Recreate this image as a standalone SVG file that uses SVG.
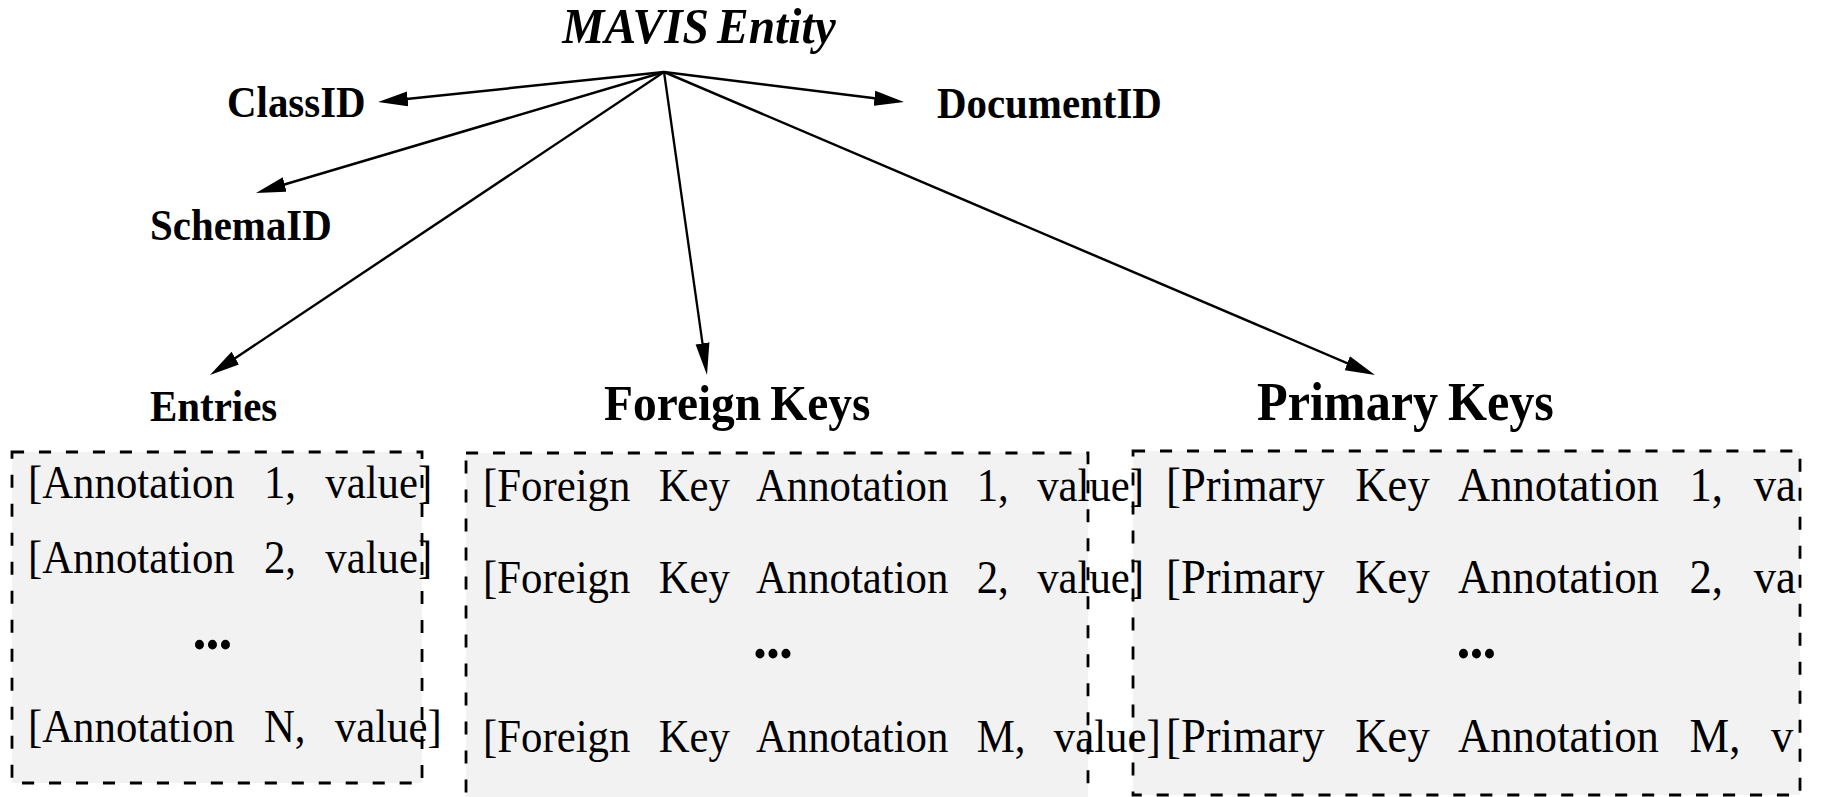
<svg xmlns="http://www.w3.org/2000/svg" width="1822" height="797" viewBox="0 0 1822 797">
<style>
.lbl{font-family:"Liberation Serif","Times New Roman",serif;font-weight:bold;fill:#000}
.small{font-size:44px}
.head{font-size:51px;word-spacing:-3px}
.title{font-size:51px;font-style:italic;word-spacing:-4px}
.row{font-family:"Liberation Serif","Times New Roman",serif;fill:#000;font-size:46px}
.row3{font-size:48px;word-spacing:21px}
.dots{font-family:"Liberation Serif","Times New Roman",serif;font-weight:bold;font-size:60px;letter-spacing:-1px;text-anchor:middle;fill:#000}
.box{fill:#f2f2f2;stroke:#000;stroke-width:3;stroke-dasharray:13 16}
.conn{stroke:#000;stroke-width:2.5;fill:none;marker-end:url(#arr)}
</style>
<defs>
<marker id="arr" markerUnits="userSpaceOnUse" viewBox="0 0 32 16" markerWidth="32" markerHeight="16" refX="22" refY="8" orient="auto">
<path d="M0,0.5 L32,8 L0,15.5 Z" fill="#000"/>
</marker>
</defs>
<rect x="0" y="0" width="1822" height="797" fill="#fff"/>
<g transform="scale(0.93 1)">
<g id="connectors">
<line class="conn" x1="714" y1="72" x2="416.5" y2="101"/>
<line class="conn" x1="714" y1="72" x2="962.1" y2="100.8"/>
<line class="conn" x1="714" y1="72" x2="284.9" y2="190.3"/>
<line class="conn" x1="714" y1="72" x2="234.3" y2="369.7"/>
<line class="conn" x1="714" y1="72" x2="758.7" y2="365.1"/>
<line class="conn" x1="714" y1="72" x2="1469.2" y2="371.3"/>
</g>
<g id="mavis-entity">
<text class="lbl title" x="751.6" y="43" text-anchor="middle">MAVIS Entity</text>
</g>
<g id="classid">
<text class="lbl small" x="244.1" y="117">ClassID</text>
</g>
<g id="documentid">
<text class="lbl small" x="1007.5" y="118">DocumentID</text>
</g>
<g id="schemaid">
<text class="lbl small" x="161.3" y="240">SchemaID</text>
</g>
<g id="primary-keys">
<text class="lbl head" x="1351.6" y="420" style="font-size:54px">Primary Keys</text>
<rect class="box" x="1218.3" y="451" width="717.2" height="344"/>
<text class="row row3" x="1253.8" y="501">[Primary Key Annotation 1, va</text>
<text class="row row3" x="1253.8" y="593">[Primary Key Annotation 2, va</text>
<text class="dots" x="1587.1" y="658">...</text>
<text class="row row3" x="1253.8" y="752">[Primary Key Annotation M, v</text>
</g>
<g id="foreign-keys">
<text class="lbl head" x="649.5" y="420">Foreign Keys</text>
<rect class="box" x="501.1" y="453" width="668.8" height="400"/>
<text class="row" x="519.4" y="501" word-spacing="19">[Foreign Key Annotation 1, value]</text>
<text class="row" x="519.4" y="593" word-spacing="19">[Foreign Key Annotation 2, value]</text>
<text class="dots" x="830.6" y="658">...</text>
<text class="row" x="519.4" y="752" word-spacing="19">[Foreign Key Annotation M, value]</text>
</g>
<g id="entries">
<text class="lbl small" x="161.3" y="421">Entries</text>
<rect class="box" x="12.9" y="452" width="440.9" height="331"/>
<text class="row" x="30.1" y="498" word-spacing="20">[Annotation 1, value]</text>
<text class="row" x="30.1" y="573" word-spacing="20">[Annotation 2, value]</text>
<text class="dots" x="228" y="649">...</text>
<text class="row" x="30.1" y="742" word-spacing="20">[Annotation N, value]</text>
</g>
</g>
</svg>
